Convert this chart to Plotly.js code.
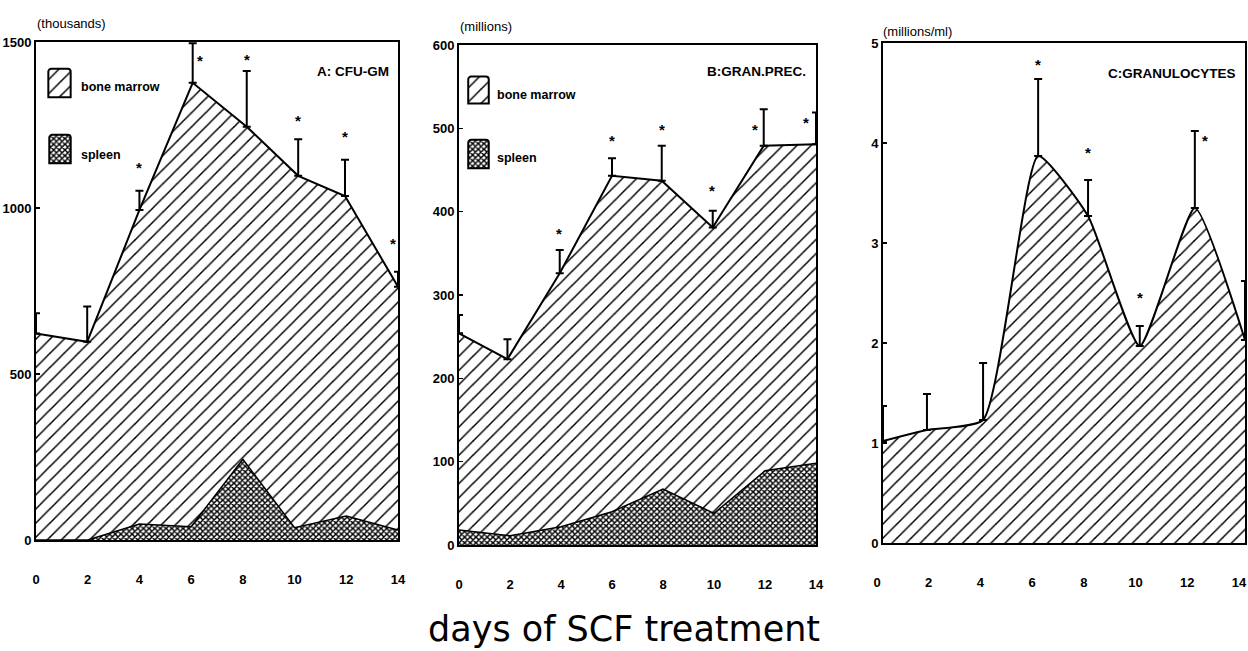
<!DOCTYPE html>
<html>
<head>
<meta charset="utf-8">
<script src="https://cdn.plot.ly/plotly-3.0.1.min.js"></script>
<style>html,body{margin:0;padding:0;background:#fff}#chart{width:1248px;height:651px}</style>
</head>
<body>
<div id="chart"></div>
<script>
// ---------- data ----------
// Panel A: CFU-GM (thousands)
const daysA_bm   = [0, 1.98, 4.0, 6.06, 8.15, 10.14, 11.95, 14];
const bmA        = [622, 597, 994, 1377, 1245, 1097, 1036, 763];
const bmA_err    = [61, 106, 58, 119, 168, 110, 109, 45];
const daysA_sp   = [0, 2, 4, 6, 8, 10, 12, 14];
const spA        = [0, 0, 48, 40, 243, 37, 72, 30];
const starA_x    = [4.0, 6.34, 8.15, 10.14, 11.95, 13.8];
const starA_y    = [1135, 1455, 1460, 1275, 1226, 904];

// Panel B: granulocyte precursors (millions)
const daysB_bm   = [0, 1.9, 3.95, 6.0, 7.95, 9.95, 11.95, 14];
const bmB        = [254, 223, 326, 443, 437, 381, 479, 481];
const bmB_err    = [22, 24, 28, 21, 42, 20, 44, 38];
const daysB_sp   = [0, 2, 4, 6, 8, 10, 12, 14];
const spB        = [18, 11, 22, 40, 67, 38, 89, 98];
const starB_x    = [3.92, 6.0, 7.96, 9.92, 11.6, 13.6];
const starB_y    = [379, 490, 504, 430, 503, 512];

// Panel C: granulocytes (millions/ml)
const daysC      = [0, 1.7, 3.87, 6.0, 7.93, 9.93, 12.06, 14];
const granC      = [1.02, 1.13, 1.23, 3.87, 3.27, 1.97, 3.35, 2.03];
const granC_err  = [0.35, 0.36, 0.57, 0.77, 0.36, 0.20, 0.77, 0.59];
const starC_x    = [6.0, 7.93, 9.95, 12.46];
const starC_y    = [4.82, 3.95, 2.5, 4.07];

const xTicks     = [0, 2, 4, 6, 8, 10, 12, 14];
const yTicksA    = [0, 500, 1000, 1500];
const yTicksB    = [0, 100, 200, 300, 400, 500, 600];
const yTicksC    = [0, 1, 2, 3, 4, 5];

const panelTitles = ['A: CFU-GM', 'B:GRAN.PREC.', 'C:GRANULOCYTES'];
const unitLabels  = ['(thousands)', '(millions)', '(millions/ml)'];
const seriesNames = ['bone marrow', 'spleen'];
const xTitle      = 'days of SCF treatment';

// ---------- styling ----------
const W = 1248, H = 651;
const SANS = '"Liberation Sans", Arial, sans-serif';
const hatch = {shape: '/', size: 10, solidity: 0.15, fgcolor: '#000', bgcolor: '#fff', fillmode: 'replace'};
const dots  = {shape: 'x', size: 4, solidity: 0.6, fgcolor: '#000', bgcolor: '#fff', fillmode: 'replace'};
const dx = (a, b) => [a / W, b / W];
const dy = (top, bottom) => [1 - bottom / H, 1 - top / H];

function errBars(arr) {
  return {type: 'data', symmetric: false, array: arr, arrayminus: arr.map(() => 0),
          color: '#000', thickness: 2, width: 4};
}

const traces = [];
// A
traces.push({x: daysA_bm, y: bmA, xaxis: 'x', yaxis: 'y', mode: 'lines', fill: 'tozeroy',
  fillcolor: '#fff', fillpattern: hatch, line: {color: '#000', width: 2}, error_y: errBars(bmA_err), showlegend: false});
traces.push({x: daysA_sp, y: spA, xaxis: 'x', yaxis: 'y', mode: 'lines', fill: 'tozeroy',
  fillcolor: '#444', fillpattern: dots, line: {color: '#000', width: 1.5}, showlegend: false});
// B
traces.push({x: daysB_bm, y: bmB, xaxis: 'x2', yaxis: 'y2', mode: 'lines', fill: 'tozeroy',
  fillcolor: '#fff', fillpattern: hatch, line: {color: '#000', width: 2}, error_y: errBars(bmB_err), showlegend: false});
traces.push({x: daysB_sp, y: spB, xaxis: 'x2', yaxis: 'y2', mode: 'lines', fill: 'tozeroy',
  fillcolor: '#444', fillpattern: dots, line: {color: '#000', width: 1.5}, showlegend: false});
// C
traces.push({x: daysC, y: granC, xaxis: 'x3', yaxis: 'y3', mode: 'lines', fill: 'tozeroy',
  fillcolor: '#fff', fillpattern: hatch, line: {color: '#000', width: 2, shape: 'spline', smoothing: 0.5},
  error_y: errBars(granC_err), showlegend: false});

// legend swatches as tiny bar subplots
const swatches = [
  {ax: 4, pat: hatch, box: [47, 72, 67, 99]},
  {ax: 5, pat: dots,  box: [48, 72, 133, 165]},
  {ax: 6, pat: hatch, box: [467, 490, 75, 105]},
  {ax: 7, pat: dots,  box: [467, 490, 138, 170]},
];
swatches.forEach(s => {
  traces.push({type: 'bar', x: [0], y: [1], width: [1], xaxis: 'x' + s.ax, yaxis: 'y' + s.ax,
    marker: {color: '#fff', pattern: s.pat, line: {color: '#000', width: 2}, cornerradius: 3},
    showlegend: false, hoverinfo: 'skip'});
});

const tickFont = {family: SANS, size: 13, color: '#000', weight: 'bold'};
function xAx(domain) {
  return {domain: domain, range: [0, 14], tickvals: xTicks, ticks: '', showline: true, mirror: true,
    linecolor: '#000', linewidth: 2, showgrid: false, zeroline: false, tickfont: tickFont,
    ticklabelstandoff: 26, ticklabeloverflow: 'allow', fixedrange: true};
}
function yAx(domain, range, ticks, anchor) {
  return {domain: domain, range: range, tickvals: ticks, ticks: 'inside', ticklen: 4, tickwidth: 1.5,
    tickcolor: '#000', showline: true, mirror: true, linecolor: '#000', linewidth: 2, showgrid: false,
    zeroline: false, tickfont: tickFont, anchor: anchor, ticklabeloverflow: 'allow', fixedrange: true};
}

const layout = {
  width: W, height: H, margin: {l: 0, r: 0, t: 0, b: 0}, paper_bgcolor: '#fff', plot_bgcolor: '#fff',
  showlegend: false,
  xaxis:  xAx(dx(36, 398)),
  yaxis:  yAx(dy(42, 540), [0, 1500], yTicksA, 'x'),
  xaxis2: Object.assign(xAx(dx(459, 816)), {anchor: 'y2'}),
  yaxis2: yAx(dy(45, 545), [0, 600], yTicksB, 'x2'),
  xaxis3: Object.assign(xAx(dx(883, 1245)), {anchor: 'y3', ticklabelshift: -6}),
  yaxis3: yAx(dy(43, 543), [0, 5], yTicksC, 'x3'),
  annotations: [],
};
layout.xaxis.anchor = 'y';
swatches.forEach(s => {
  layout['xaxis' + s.ax] = {domain: dx(s.box[0], s.box[1]), range: [-0.56, 0.56], visible: false,
    anchor: 'y' + s.ax, fixedrange: true};
  layout['yaxis' + s.ax] = {domain: dy(s.box[2], s.box[3]), range: [-0.06, 1.06], visible: false,
    anchor: 'x' + s.ax, fixedrange: true};
});

const A = layout.annotations;
function paperText(text, px, py, opts) {
  A.push(Object.assign({xref: 'paper', yref: 'paper', x: px / W, y: 1 - py / H, text: text,
    showarrow: false, xanchor: 'left', yanchor: 'middle'}, opts));
}
// units
const unitFont = {family: SANS, size: 13, color: '#000'};
paperText(unitLabels[0], 35, 23, {font: unitFont});
paperText(unitLabels[1], 458, 26, {font: unitFont});
paperText(unitLabels[2], 881, 31, {font: unitFont});
// panel titles
const titleFont = {family: SANS, size: 13.5, color: '#000', weight: 'bold'};
paperText(panelTitles[0], 391, 71, {xanchor: 'right', font: titleFont});
paperText(panelTitles[1], 808, 71, {xanchor: 'right', font: titleFont});
paperText(panelTitles[2], 1238, 73, {xanchor: 'right', font: titleFont});
// legend texts
const legFont = {family: SANS, size: 12.5, color: '#000', weight: 'bold'};
paperText(seriesNames[0], 79, 87, {font: legFont});
paperText(seriesNames[1], 79, 155, {font: legFont});
paperText(seriesNames[0], 495, 95, {font: legFont});
paperText(seriesNames[1], 495, 158, {font: legFont});
// x title
A.push({xref: 'paper', yref: 'paper', x: 624 / W, y: 1 - 629 / H, text: xTitle, showarrow: false,
  xanchor: 'center', yanchor: 'middle', font: {family: '"DejaVu Sans", sans-serif', size: 35, color: '#000'}});
// significance stars
const starFont = {family: SANS, size: 15, color: '#000', weight: 'bold'};
function stars(xs, ys, xr, yr) {
  xs.forEach((xv, i) => A.push({xref: xr, yref: yr, x: xv, y: ys[i], text: '*', showarrow: false,
    font: starFont, yshift: -4}));
}
stars(starA_x, starA_y, 'x', 'y');
stars(starB_x, starB_y, 'x2', 'y2');
stars(starC_x, starC_y, 'x3', 'y3');

Plotly.newPlot('chart', traces, layout, {displayModeBar: false, staticPlot: true});
</script>
</body>
</html>
